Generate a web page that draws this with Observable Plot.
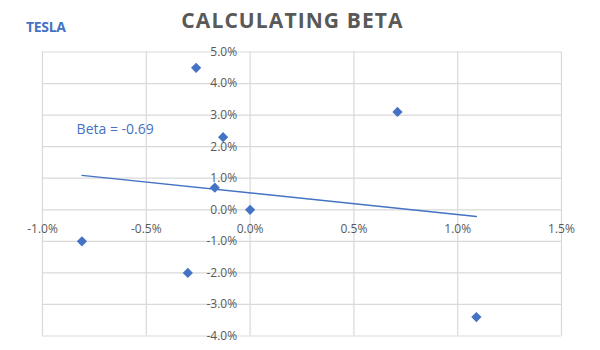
<!DOCTYPE html>
<html>
<head>
<meta charset="utf-8">
<script src="https://cdn.jsdelivr.net/npm/d3@7"></script>
<script src="https://cdn.jsdelivr.net/npm/@observablehq/plot@0.6"></script>
<style>
  html, body { margin: 0; padding: 0; background: #fff; }
  #wrap { position: relative; width: 600px; height: 350px; background: #fff; }
  #header { position: relative; width: 600px; height: 40px; }
  #ticker { position: absolute; left: 26px; top: 20px; font: bold 14px/14px "Open Sans", sans-serif; color: #4472C4; letter-spacing: -0.3px; }
  #title { position: absolute; left: 0; width: 585px; text-align: center; top: 9.5px; font: bold 21px/21px "Open Sans", sans-serif; color: #595959; letter-spacing: 1.1px; }
  svg { display: block; }
</style>
</head>
<body>
<div id="wrap">
  <div id="header">
    <div id="ticker">TESLA</div>
    <div id="title">CALCULATING BETA</div>
  </div>
  <div id="chart"></div>
</div>
<script>
// Market daily return (%) vs. Tesla daily return (%)
const marketReturn = [-0.26, 0.71, -0.13, -0.17, 0.0, -0.81, -0.30, 1.09];
const teslaReturn  = [ 4.5,  3.1,  2.3,  0.7,  0.0, -1.0, -2.0, -3.4];

const xTicks = [-1.0, -0.5, 0.0, 0.5, 1.0, 1.5];
const xTickLabels = ["-1.0%", "-0.5%", "0.0%", "0.5%", "1.0%", "1.5%"];
const yTicks = [-4, -3, -2, -1, 0, 1, 2, 3, 4, 5];
const yTickLabels = ["-4.0%", "-3.0%", "-2.0%", "-1.0%", "0.0%", "1.0%", "2.0%", "3.0%", "4.0%", "5.0%"];

const betaLabel = [{x: -0.65, y: 2.55, text: "Beta = -0.69"}];

const points = marketReturn.map((m, i) => ({market: m, tesla: teslaReturn[i]}));

const blue = "#4472C4";
const grid = "#d9d9d9";
const grey = "#595959";

const chart = Plot.plot({
  width: 600,
  height: 310,
  marginLeft: 42,
  marginRight: 39,
  marginTop: 11.5,
  marginBottom: 14.5,
  x: {domain: [-1, 1.5], axis: null},
  y: {domain: [-4, 5], axis: null},
  style: {fontFamily: "'Open Sans', sans-serif", fontSize: "12px", background: "#fff"},
  marks: [
    Plot.gridX(xTicks, {stroke: grid, strokeOpacity: 1, strokeWidth: 1.2}),
    Plot.gridY(yTicks, {stroke: grid, strokeOpacity: 1, strokeWidth: 1.2}),
    Plot.text(xTicks, {x: d => d, y: () => 0, dy: 19, text: (d, i) => xTickLabels[i], fill: grey}),
    Plot.text(yTicks, {x: () => 0, y: d => d, dx: -13, textAnchor: "end", text: (d, i) => yTickLabels[i], fill: grey}),
    Plot.linearRegressionY(points, {x: "market", y: "tesla", stroke: blue, strokeWidth: 1.3, ci: 0}),
    Plot.dot(points, {x: "market", y: "tesla", symbol: "diamond2", r: 4.6, fill: blue, stroke: "none"}),
    Plot.text(betaLabel, {x: "x", y: "y", text: "text", fill: blue, fontSize: 14})
  ]
});
document.getElementById("chart").appendChild(chart);
</script>
</body>
</html>
